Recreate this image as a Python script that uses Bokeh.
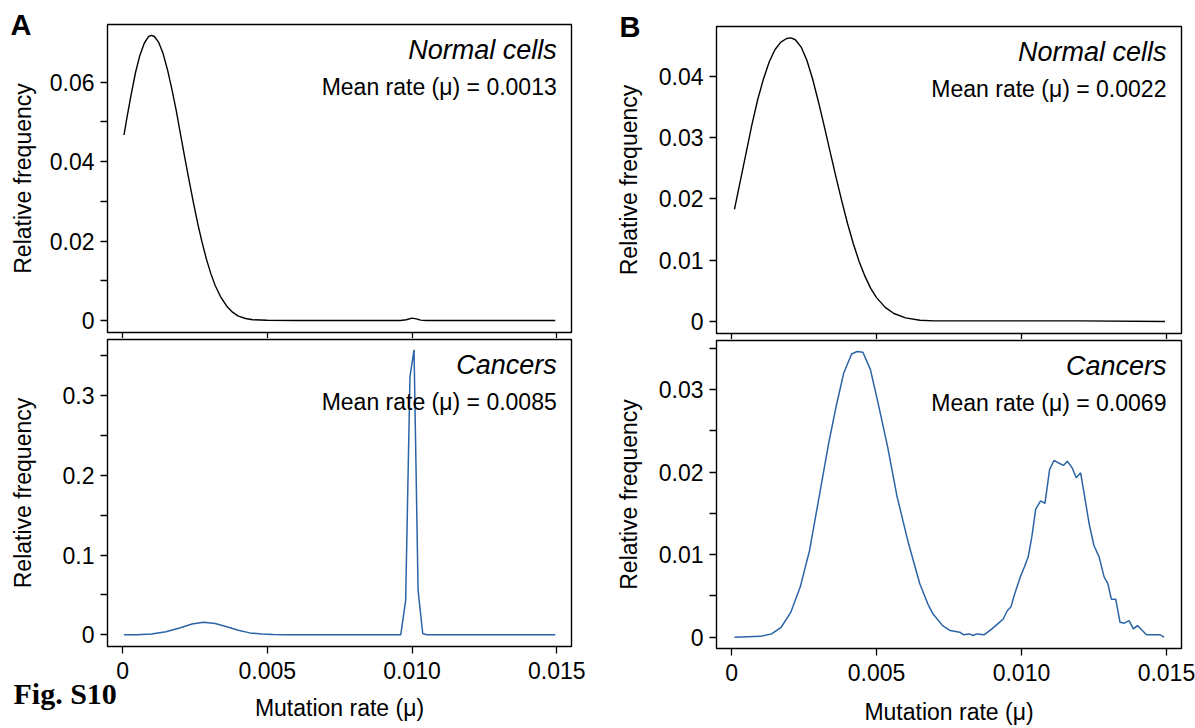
from bokeh.plotting import figure
from bokeh.layouts import row, column
from bokeh.models import FixedTicker, Label, Range1d, Title
from bokeh.embed import file_html
from bokeh.resources import INLINE

# ---------------- data (mutation rate given x 1000, relative frequency) ----------------
x_ticks = [0, 0.005, 0.010, 0.015]
x_tick_labels = ["0", "0.005", "0.010", "0.015"]

# Panel A, normal cells
a_norm_rate_e3 = [0.05, 0.15, 0.3, 0.45, 0.6, 0.75, 0.9, 1.0, 1.1, 1.25, 1.4, 1.55, 1.7, 1.85,
                  2.0, 2.15, 2.3, 2.45, 2.6, 2.75, 2.9, 3.05, 3.2, 3.4, 3.6, 3.8, 4.0, 4.25,
                  4.5, 5.0, 6.0, 7.0, 8.0, 9.0, 9.6, 9.8, 10.0, 10.15, 10.3, 10.5, 12.0, 14.95]
a_norm_freq = [0.0467, 0.0510, 0.0570, 0.0625, 0.0668, 0.0698, 0.0715, 0.0718, 0.0715, 0.0700,
               0.0672, 0.0632, 0.0584, 0.0530, 0.0470, 0.0410, 0.0352, 0.0296, 0.0243, 0.0196,
               0.0154, 0.0118, 0.0088, 0.0058, 0.0036, 0.0021, 0.0011, 0.0005, 0.0002, 0.00005,
               0, 0, 0, 0, 0, 0.0002, 0.0006, 0.0004, 0.0001, 0, 0, 0]

# Panel A, cancers
a_canc_rate_e3 = [0.05, 0.5, 1.0, 1.5, 2.0, 2.4, 2.8, 3.2, 3.6, 4.0, 4.4, 4.8, 5.2, 5.6, 6.0,
                  8.0, 9.61, 9.78, 9.93, 10.07, 10.21, 10.37, 10.51, 12.0, 14.95]
a_canc_freq = [0, 0.0002, 0.001, 0.0038, 0.0088, 0.0135, 0.0158, 0.0142, 0.0100, 0.0056,
               0.0024, 0.0009, 0.0003, 0.0001, 0, 0, 0, 0.043, 0.324, 0.3576, 0.0557, 0.0016,
               0, 0, 0]

# Panel B, normal cells
b_norm_rate_e3 = [0.1, 0.3, 0.5, 0.7, 0.9, 1.1, 1.3, 1.5, 1.7, 1.9, 2.05, 2.2, 2.4, 2.6, 2.8,
                  3.0, 3.2, 3.4, 3.6, 3.8, 4.0, 4.2, 4.4, 4.6, 4.8, 5.0, 5.3, 5.6, 6.0, 6.5,
                  7.0, 8.0, 10.0, 12.0, 14.95]
b_norm_freq = [0.0183, 0.0229, 0.0275, 0.0321, 0.0362, 0.0396, 0.0424, 0.0444, 0.0456, 0.0462,
               0.0463, 0.0460, 0.0448, 0.0426, 0.0395, 0.0358, 0.0318, 0.0277, 0.0236, 0.0197,
               0.0160, 0.0127, 0.0098, 0.0074, 0.0054, 0.0039, 0.0023, 0.0013, 0.0006, 0.0002,
               0.0001, 0.0001, 0.0001, 0.0001, 0.0]

# Panel B, cancers
b_canc_rate_e3 = [0.1, 0.99, 1.38, 1.71, 2.04, 2.37, 2.69, 3.02, 3.35, 3.61, 3.87, 4.14, 4.33,
                  4.53, 4.79, 5.05, 5.38, 5.71, 6.10, 6.49, 6.76, 6.95, 7.28, 7.54, 7.87, 8.00,
                  8.2, 8.33, 8.46, 8.72, 8.98, 9.24, 9.37, 9.51, 9.64, 9.77, 9.96, 10.1, 10.23,
                  10.36, 10.49, 10.66, 10.81, 10.97, 11.12, 11.28, 11.45, 11.58, 11.75, 11.89,
                  12.04, 12.2, 12.33, 12.5, 12.68, 12.85, 12.98, 13.1, 13.25, 13.4, 13.55, 13.71,
                  13.86, 14.0, 14.17, 14.31, 14.5, 14.77, 14.92]
b_canc_freq = [0, 0.0001, 0.0004, 0.0012, 0.003, 0.0061, 0.0105, 0.017, 0.0235, 0.028, 0.032,
               0.0343, 0.0346, 0.0345, 0.0324, 0.0284, 0.0231, 0.017, 0.0114, 0.0065, 0.0041,
               0.0028, 0.0014, 0.0008, 0.0006, 0.0003, 0.0004, 0.0002, 0.0004, 0.0003, 0.001,
               0.0018, 0.0022, 0.0032, 0.0037, 0.0053, 0.0073, 0.0085, 0.0097, 0.0122, 0.0155,
               0.0165, 0.0162, 0.0203, 0.0214, 0.0211, 0.0208, 0.0213, 0.0205, 0.0193, 0.0199,
               0.0166, 0.0138, 0.0111, 0.0097, 0.0073, 0.0065, 0.0046, 0.0046, 0.0018, 0.0017,
               0.002, 0.001, 0.0014, 0.0008, 0.0003, 0.0003, 0.0003, 0.0]

panel_titles = ["Normal cells", "Cancers"]
mean_texts = {"A_norm": "Mean rate (\u03bc) = 0.0013", "A_canc": "Mean rate (\u03bc) = 0.0085",
              "B_norm": "Mean rate (\u03bc) = 0.0022", "B_canc": "Mean rate (\u03bc) = 0.0069"}

# ---------------- styling ----------------
FONT = "Liberation Sans"
BLACK = "#000000"
BLUE = "#2b64a6"
TXT = "23px"


def make_panel(width, height, mbl, mbr, mbt, mbb, xr, yr, yticks, ylabels, yminor,
               bottom, ylab_standoff, xlab_standoff=12):
    p = figure(width=width, height=height, x_range=Range1d(*xr), y_range=Range1d(*yr),
               output_backend="svg", toolbar_location=None,
               min_border_left=mbl, min_border_right=mbr,
               min_border_top=mbt, min_border_bottom=mbb)
    p.grid.visible = False
    p.outline_line_color = BLACK
    p.outline_line_width = 1.4
    p.background_fill_color = "white"
    p.border_fill_color = "white"

    xa = p.xaxis[0]
    xa.ticker = FixedTicker(ticks=x_ticks)
    xa.axis_line_color = None
    xa.major_tick_in = 0
    xa.minor_tick_out = 0
    xa.minor_tick_in = 0
    xa.major_tick_line_width = 1.3
    xa.major_tick_line_color = BLACK
    if bottom:
        xa.major_tick_out = 7
        xa.major_label_overrides = {t: s for t, s in zip(x_ticks, x_tick_labels)}
        xa.major_label_text_font = FONT
        xa.major_label_text_font_size = TXT
        xa.major_label_text_color = BLACK
        xa.major_label_standoff = 8
        xa.axis_label = "Mutation rate (\u03bc)"
        xa.axis_label_text_font = FONT
        xa.axis_label_text_font_size = TXT
        xa.axis_label_text_font_style = "normal"
        xa.axis_label_text_color = BLACK
        xa.axis_label_standoff = xlab_standoff
    else:
        # tick marks only, no tick labels between the stacked panels
        xa.major_tick_out = 6
        xa.major_label_text_font_size = "0px"
        xa.major_label_text_color = None
        xa.major_label_standoff = 0

    ya = p.yaxis[0]
    ya.ticker = FixedTicker(ticks=yticks, minor_ticks=yminor)
    ya.major_label_overrides = {t: s for t, s in zip(yticks, ylabels)}
    ya.axis_line_color = None
    ya.major_tick_in = 0
    ya.major_tick_out = 7
    ya.minor_tick_in = 0
    ya.minor_tick_out = 7
    ya.major_tick_line_width = 1.3
    ya.minor_tick_line_width = 1.3
    ya.major_tick_line_color = BLACK
    ya.minor_tick_line_color = BLACK
    ya.major_label_text_font = FONT
    ya.major_label_text_font_size = TXT
    ya.major_label_text_color = BLACK
    ya.major_label_standoff = 6
    ya.axis_label = "Relative frequency"
    ya.axis_label_text_font = FONT
    ya.axis_label_text_font_size = TXT
    ya.axis_label_text_font_style = "normal"
    ya.axis_label_text_color = BLACK
    ya.axis_label_standoff = ylab_standoff
    return p


def add_texts(p, yr, frame_h, title, mean_text):
    ys, ye = yr
    upp = (ye - ys) / frame_h
    p.add_layout(Label(x=0.015, y=ye - 25 * upp, text=title, text_font=FONT,
                       text_font_size="27px", text_font_style="italic", text_color=BLACK,
                       text_align="right", text_baseline="middle"))
    p.add_layout(Label(x=0.015, y=ye - 62 * upp, text=mean_text, text_font=FONT,
                       text_font_size=TXT, text_color=BLACK,
                       text_align="right", text_baseline="middle"))


def panel_letter(p, letter, offset):
    # bold panel letter sitting left of the frame's top-left corner
    t = Title(text=letter, align="left", vertical_align="bottom", offset=offset,
              standoff=-32.4, text_font=FONT, text_font_size="29px",
              text_font_style="bold", text_color=BLACK)
    p.add_layout(t, "above")


XR_A = (-0.00052, 0.01551)
XR_B = (-0.00052, 0.01552)

# ---------- Panel A ----------
yr_at = (-0.00302, 0.07452)
pA_top = make_panel(610, 338, 107, 39, 24, 6, XR_A, yr_at,
                    [0, 0.02, 0.04, 0.06], ["0", "0.02", "0.04", "0.06"], [0.01, 0.03, 0.05],
                    False, 11)
pA_top.line([v / 1000 for v in a_norm_rate_e3], a_norm_freq, line_color=BLACK, line_width=1.4)
add_texts(pA_top, yr_at, 308, panel_titles[0], mean_texts["A_norm"])
panel_letter(pA_top, "A", -97)

yr_ab = (-0.01468, 0.3705)
pA_bot = make_panel(610, 390, 107, 39, 1, 82, XR_A, yr_ab,
                    [0, 0.1, 0.2, 0.3], ["0", "0.1", "0.2", "0.3"], [0.05, 0.15, 0.25, 0.35],
                    True, 24, xlab_standoff=13)
pA_bot.line([v / 1000 for v in a_canc_rate_e3], a_canc_freq, line_color=BLUE, line_width=1.5)
add_texts(pA_bot, yr_ab, 307, panel_titles[1], mean_texts["A_canc"])
fig_caption = Title(text="Fig. S10\n", align="left", vertical_align="bottom", offset=-94,
                    standoff=-98, text_line_height=1.93, text_font="Liberation Serif",
                    text_font_size="30px", text_font_style="bold", text_color=BLACK)
pA_bot.add_layout(fig_caption, "below")

# ---------- Panel B ----------
yr_bt = (-0.00196, 0.04816)
pB_top = make_panel(585, 339, 106, 14, 26, 6, XR_B, yr_bt,
                    [0, 0.01, 0.02, 0.03, 0.04], ["0", "0.01", "0.02", "0.03", "0.04"], [],
                    False, 14)
pB_top.line([v / 1000 for v in b_norm_rate_e3], b_norm_freq, line_color=BLACK, line_width=1.4)
add_texts(pB_top, yr_bt, 307, panel_titles[0], mean_texts["B_norm"])
panel_letter(pB_top, "B", -97)

yr_bb = (-0.00137, 0.03593)
pB_bot = make_panel(585, 389, 106, 14, 1, 80, XR_B, yr_bb,
                    [0, 0.01, 0.02, 0.03], ["0", "0.01", "0.02", "0.03"],
                    [0.005, 0.015, 0.025, 0.035], True, 14, xlab_standoff=15)
pB_bot.line([v / 1000 for v in b_canc_rate_e3], b_canc_freq, line_color=BLUE, line_width=1.5)
add_texts(pB_bot, yr_bb, 308, panel_titles[1], mean_texts["B_canc"])

layout = row(column(pA_top, pA_bot, spacing=0), column(pB_top, pB_bot, spacing=0), spacing=0)

with open("out.html", "w") as f:
    f.write(file_html(layout, INLINE))
